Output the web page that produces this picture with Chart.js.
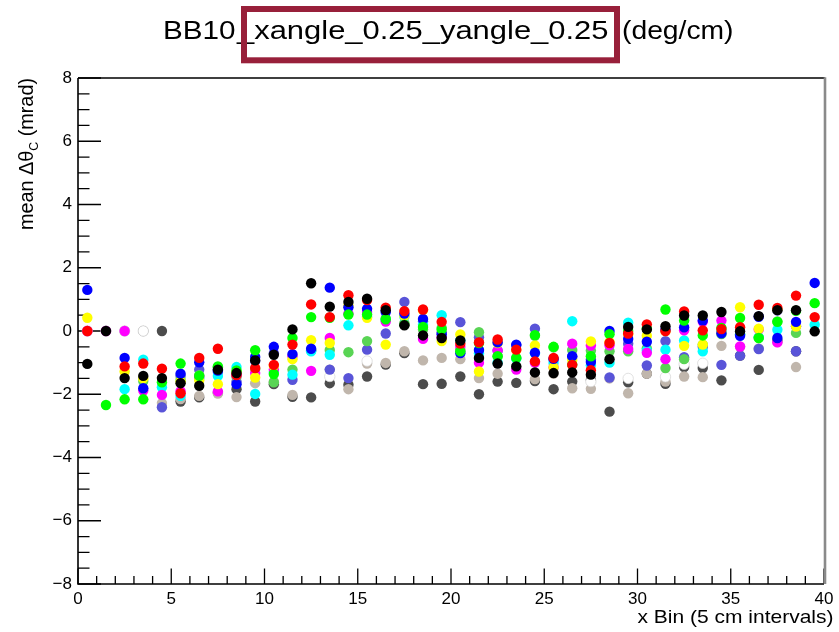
<!DOCTYPE html>
<html>
<head>
<meta charset="utf-8">
<title>BB10 mean delta theta C</title>
<script src="https://cdn.jsdelivr.net/npm/chart.js@4.4.1/dist/chart.umd.min.js"></script>
<style>
    body { margin: 0; background: #ffffff; }
    canvas { display: block; }
</style>
</head>
<body>
<canvas id="thetaChart" width="839" height="632"></canvas>
<script>
// 40 bins of 5 cm, mean delta theta_C in mrad for each run (null = no point)
var black = [-1.04, 0, -1.49, -1.42, -1.49, -1.65, -1.73, -1.22, -1.33, -0.93, -0.75, 0.05, 1.51, 0.77, 0.92, 1.02, 0.66, 0.18, -0.14, -0.22,
    -0.30, -0.85, -1.03, -1.12, -1.31, -1.33, -1.31, -1.38, -0.89, 0.13, 0.05, 0.15, 0.49, 0.49, 0.60, -0.01, 0.47, 0.66, 0.66, -0.01];
var red = [0, null, -1.12, -1.03, -1.19, -1.97, -0.85, -0.56, -1.39, -1.17, -1.07, -0.43, 0.84, 0.44, 1.13, 0.98, 0.74, 0.63, 0.68, 0.29,
    -0.40, -0.36, -0.27, -0.59, -0.96, -0.85, -1.07, -1.24, -0.38, -0.08, 0.21, 0.00, 0.62, 0.02, 0.06, 0.12, 0.83, 0.73, 1.12, 0.44];
var green = [null, -2.34, -2.16, -2.16, -1.62, -1.03, -1.42, -1.12, -1.25, -0.61, -1.36, -0.22, 0.44, 0.42, 0.52, 0.52, 0.37, 0.20, 0.13, 0.05,
    -0.64, -0.38, -0.80, -0.85, -0.13, -0.50, -1.07, -0.80, -0.10, 0.00, 0.08, 0.68, 0.33, -0.14, 0.10, 0.41, -0.22, 0.29, 0.64, 0.88];
var blue = [1.30, null, -0.85, -1.81, null, -1.35, -0.99, -1.25, -1.68, -0.82, -0.50, -0.73, -0.56, 1.37, 0.75, 0.70, 0.60, 0.55, 0.38, -0.10,
    -0.70, -0.60, -0.36, -0.43, -0.69, -0.88, -0.80, -0.98, 0.00, -0.25, -0.34, 0.05, 0.12, 0.33, -0.07, -0.15, 0.45, -0.22, 0.29, 1.52];
var yellow = [0.42, null, -1.28, -1.50, null, -1.60, -1.56, -1.68, -1.30, -1.47, -1.10, -0.89, -0.29, -0.38, 0.80, 0.42, -0.43, 0.48, 0.66, -0.32,
    -0.11, -1.28, -0.38, -0.60, -0.46, -1.15, -0.92, -0.33, -0.35, -0.10, -0.15, 0.00, -0.47, -0.43, -0.05, 0.75, 0.07, 0.68, 0.14, null];
var magenta = [0, 0, 0, -1.88, -2.02, -1.90, -1.45, -1.91, -1.40, -1.33, -1.22, -0.80, -1.26, -0.22, 0.55, 0.60, 0.30, 0.20, -0.25, -0.20,
    -0.50, -1.00, -0.62, -1.22, -1.00, -1.15, -0.40, -0.46, -0.45, -0.57, -0.69, -0.89, 0.02, 0.30, 0.33, -0.49, 0.05, -0.36, 0.15, null];
var cyan = [null, null, -1.84, -0.91, -1.78, -2.05, -1.50, -1.42, -1.14, -1.99, -1.30, -1.38, -0.64, -0.75, 0.18, 0.45, 0.35, 0.45, 0.20, 0.50,
    -0.30, -0.70, -1.00, -0.87, -0.70, -1.01, 0.31, -1.08, -1.00, 0.26, -0.62, -0.59, -0.30, -0.64, 0.00, -0.10, -0.20, 0.04, 0.15, 0.20];
var lightGreen = [null, null, null, -1.58, null, -1.55, -1.40, -1.15, -1.45, -1.20, -1.62, -1.22, -0.60, -0.60, -0.67, -0.32, 0.40, 0.25, 0.05, 0.10,
    -0.60, -0.04, -0.80, -0.85, -0.15, -0.52, -0.60, -0.62, -0.64, -0.64, -0.55, -1.17, -0.89, -0.43, -0.10, -0.10, -0.20, 0.30, -0.06, null];
var slateBlue = [null, null, null, null, -2.41, -1.42, -1.22, -1.30, -1.60, -0.95, -0.70, -1.54, -0.62, -1.22, -1.49, -0.59, -0.08, 0.92, 0.30, -0.05,
    0.28, -0.20, -0.62, -0.45, 0.07, -0.90, -0.82, -0.90, -1.47, -0.40, -1.09, -0.32, -0.83, -0.50, -1.07, -0.78, -0.57, 0.65, -0.64, null];
var white = [0, 0, 0, 0, null, null, null, null, null, null, null, null, null, -1.44, null, -0.95, null, null, null, null,
    null, null, null, null, null, null, null, -1.60, null, -1.50, null, -1.45, -1.05, -1.02, null, null, null, null, null, null];
var tan = [null, null, null, null, -2.28, -2.15, -2.05, -1.98, -2.09, -1.65, -1.60, -2.02, -0.60, -1.22, -1.84, -1.03, -1.01, -0.64, -0.93, -0.85,
    -0.89, -1.49, -1.35, -1.12, -1.52, -1.35, -1.81, -1.83, -1.50, -1.97, -1.35, -1.60, -1.44, -1.46, -0.47, -0.50, -0.55, -0.35, -1.14, null];
var darkGray = [0, 0, 0, 0, 0, -2.23, -2.10, -1.95, -1.84, -2.23, -1.68, -2.08, -2.10, -1.65, -1.70, -1.44, -1.06, -0.70, -1.68, -1.67,
    -1.44, -2.00, -1.60, -1.64, -1.58, -1.84, -1.60, -1.55, -2.55, -1.62, -1.35, -1.67, -1.14, -1.17, -1.56, -0.78, -1.23, -0.30, -0.64, null];

var xTicks = [0, 5, 10, 15, 20, 25, 30, 35, 40];
var yTicks = [-8, -6, -4, -2, 0, 2, 4, 6, 8];

var FONT = "'Liberation Sans', Arial, Helvetica, sans-serif";

// first in the list is drawn on top
var series = [
    { values: black, color: "#000000" },
    { values: red, color: "#ff0000" },
    { values: green, color: "#00ff00" },
    { values: blue, color: "#0000ff" },
    { values: yellow, color: "#ffff00" },
    { values: magenta, color: "#ff00ff" },
    { values: cyan, color: "#00ffff" },
    { values: lightGreen, color: "#59d454" },
    { values: slateBlue, color: "#5954d8" },
    { values: white, color: "#ffffff", edge: "#d4d4d4" },
    { values: tan, color: "#c0b6ac" },
    { values: darkGray, color: "#4c4c4c" }
];

// bin centres at 0.5, 1.5, ...
function toPoints(values) {
    var pts = [];
    values.forEach(function (v, i) {
        if (v !== null) pts.push({ x: i + 0.5, y: v });
    });
    return pts;
}

var datasets = series.map(function (s) {
    return {
        data: toPoints(s.values),
        backgroundColor: s.color,
        borderColor: s.edge || s.color,
        borderWidth: s.edge ? 0.7 : 0,
        pointRadius: 5.2,
        pointHoverRadius: 5.2,
        showLine: false
    };
});

// draw text squeezed/stretched to a given length
function fitText(ctx, parts, length) {
    var total = 0;
    parts.forEach(function (p) {
        ctx.font = p.size + "px " + FONT;
        p.w = ctx.measureText(p.text).width;
        total += p.w;
    });
    ctx.save();
    ctx.scale(length / total, 1);
    var x = 0;
    parts.forEach(function (p) {
        ctx.font = p.size + "px " + FONT;
        ctx.fillText(p.text, x, p.dy || 0);
        x += p.w;
    });
    ctx.restore();
}

function fitAt(ctx, text, size, x0, x1, y) {
    ctx.save();
    ctx.translate(x0, y);
    fitText(ctx, [{ text: text, size: size }], x1 - x0);
    ctx.restore();
}

// ROOT style frame with inside tick marks
var framePlugin = {
    id: "frame",
    beforeDatasetsDraw: function (chart) {
        var ctx = chart.ctx;
        var a = chart.chartArea;
        var xs = chart.scales.x;
        var ys = chart.scales.y;
        var v;
        ctx.save();
        ctx.strokeStyle = "#000";
        ctx.lineWidth = 1.3;
        ctx.beginPath();
        for (v = -8; v <= 8.001; v += 0.5) {
            var py = ys.getPixelForValue(v);
            var len = (Math.abs(v % 2) < 0.001) ? 23 : 11.5;
            ctx.moveTo(a.left, py);
            ctx.lineTo(a.left + len, py);
        }
        for (v = 0; v <= 40; v += 1) {
            var px = xs.getPixelForValue(v);
            var h = (v % 5 === 0) ? 15.5 : 8;
            ctx.moveTo(px, a.bottom);
            ctx.lineTo(px, a.bottom - h);
        }
        ctx.stroke();

        ctx.lineWidth = 1.6;
        ctx.beginPath();
        ctx.moveTo(a.left, a.top);
        ctx.lineTo(a.left, a.bottom);
        ctx.lineTo(a.right, a.bottom);
        ctx.moveTo(a.left, a.top);
        ctx.lineTo(a.right + 1, a.top);
        ctx.stroke();
        ctx.strokeStyle = "#8a8a8a";
        ctx.lineWidth = 2.6;
        ctx.beginPath();
        ctx.moveTo(a.right + 1, a.top - 0.8);
        ctx.lineTo(a.right + 1, a.bottom);
        ctx.stroke();
        ctx.restore();
    },
    afterDraw: function (chart) {
        var ctx = chart.ctx;
        ctx.save();
        ctx.fillStyle = "#000";
        ctx.textBaseline = "alphabetic";

        // title, in three pieces so the box sits between them
        fitAt(ctx, "BB10", 25, 163, 235.5, 39);
        fitAt(ctx, "_xangle_0.25_yangle_0.25", 25, 237, 608.5, 39);
        fitAt(ctx, "(deg/cm)", 25, 622, 733.5, 39);

        // box round part of the title
        ctx.strokeStyle = "#98203a";
        ctx.lineWidth = 6;
        ctx.strokeRect(244, 9, 373, 51.3);

        // x axis title, right aligned
        fitAt(ctx, "x Bin (5 cm intervals)", 18.5, 637.5, 833.5, 623.3);

        // y axis title with subscript C
        ctx.save();
        ctx.translate(32.5, 230);
        ctx.rotate(-Math.PI / 2);
        fitText(ctx, [
            { text: "mean \u0394\u03b8", size: 21 },
            { text: "C", size: 13, dy: 5 },
            { text: " (mrad)", size: 21 }
        ], 152);
        ctx.restore();
        ctx.restore();
    }
};

var ctx = document.getElementById("thetaChart").getContext("2d");
var chart = new Chart(ctx, {
    type: "scatter",
    data: { datasets: datasets },
    options: {
        responsive: false,
        animation: false,
        events: [],
        layout: { padding: { top: 78, right: 15, left: 0, bottom: 0 } },
        plugins: {
            legend: { display: false },
            tooltip: { enabled: false },
            title: { display: false }
        },
        scales: {
            x: {
                type: "linear",
                min: 0,
                max: 40,
                afterFit: function (scale) { scale.height = 48; },
                afterBuildTicks: function (scale) {
                    scale.ticks = xTicks.map(function (v) { return { value: v }; });
                },
                grid: { display: false, drawTicks: false },
                border: { display: false },
                ticks: {
                    padding: 5,
                    color: "#000",
                    maxRotation: 0,
                    font: { family: FONT, size: 17 },
                    callback: function (v) { return String(v); }
                }
            },
            y: {
                type: "linear",
                min: -8,
                max: 8,
                afterFit: function (scale) { scale.width = 78; },
                afterBuildTicks: function (scale) {
                    scale.ticks = yTicks.map(function (v) { return { value: v }; });
                },
                grid: { display: false, drawTicks: false },
                border: { display: false },
                ticks: {
                    padding: 6,
                    color: "#000",
                    font: { family: FONT, size: 17 },
                    callback: function (v) { return String(v).replace("-", "\u2212"); }
                }
            }
        }
    },
    plugins: [framePlugin]
});
</script>
</body>
</html>
